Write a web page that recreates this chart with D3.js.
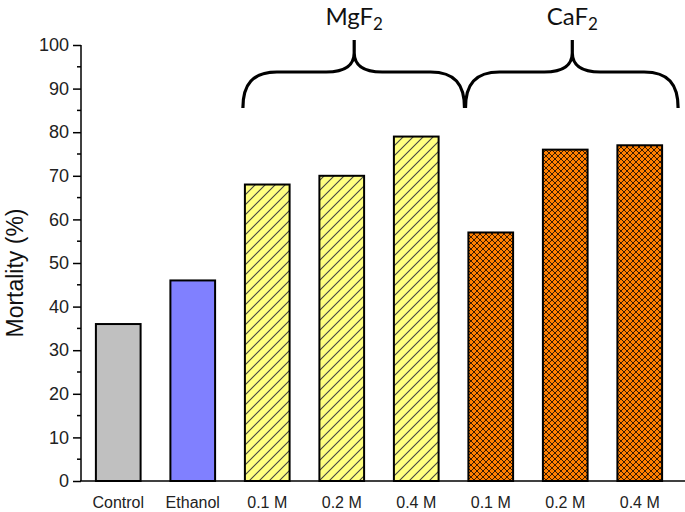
<!DOCTYPE html>
<html><head><meta charset="utf-8">
<script src="https://cdn.jsdelivr.net/npm/d3@7"></script>
<style>body{margin:0;background:#fff}</style>
</head><body>
<svg id="c" width="685" height="512"></svg>
<script>
const categories = ["Control","Ethanol","0.1 M","0.2 M","0.4 M","0.1 M ","0.2 M ","0.4 M "];
const labels = ["Control","Ethanol","0.1 M","0.2 M","0.4 M","0.1 M","0.2 M","0.4 M"];
const mortality = [36,46,68,70,79,57,76,77];
const groups = ["plain-grey","plain-blue","mg","mg","mg","ca","ca","ca"];
const yTicks = [0,10,20,30,40,50,60,70,80,90,100];
const braceGroups = [{name:"MgF", from:2, to:4},{name:"CaF", from:5, to:7}];

const ARIAL = "'Liberation Sans', Arial, sans-serif";
const svg = d3.select("#c");
const x = d3.scaleBand().domain(categories).range([81,677]).paddingInner(0.4).paddingOuter(0.2);
const y = d3.scaleLinear().domain([0,100]).range([481,45]);

const defs = svg.append("defs");
const p1 = defs.append("pattern").attr("id","hatch").attr("patternUnits","userSpaceOnUse")
  .attr("width",10).attr("height",10);
p1.append("rect").attr("width",10).attr("height",10).attr("fill","#ffff80");
p1.append("path").attr("d","M-2.5,2.5 L2.5,-2.5 M0,10 L10,0 M7.5,12.5 L12.5,7.5").attr("stroke","#444").attr("stroke-width",1.1);
const p2 = defs.append("pattern").attr("id","cross").attr("patternUnits","userSpaceOnUse")
  .attr("width",6).attr("height",6);
p2.append("rect").attr("width",6).attr("height",6).attr("fill","#ff8000");
p2.append("path").attr("d","M-1.5,1.5 L1.5,-1.5 M0,6 L6,0 M4.5,7.5 L7.5,4.5 M-1.5,4.5 L1.5,7.5 M0,0 L6,6 M4.5,-1.5 L7.5,1.5").attr("stroke","#3a1a00").attr("stroke-width",1);

const fills = {"plain-grey":"#c0c0c0","plain-blue":"#8080ff","mg":"url(#hatch)","ca":"url(#cross)"};

svg.append("g").selectAll("rect").data(mortality).join("rect")
  .attr("x",(d,i)=>x(categories[i]))
  .attr("width",x.bandwidth())
  .attr("y",d=>y(d))
  .attr("height",d=>y(0)-y(d))
  .attr("fill",(d,i)=>fills[groups[i]])
  .attr("stroke","#000").attr("stroke-width",2);

// y axis
const ya = svg.append("g").attr("transform","translate(81,0)")
  .call(d3.axisLeft(y).tickValues(yTicks).tickSize(8).tickPadding(4));
ya.select(".domain").attr("stroke-width",1.5).attr("d","M0,45V481");
ya.selectAll(".tick line").attr("stroke-width",1.5);
ya.selectAll("text").style("font-family",ARIAL).attr("font-size",18).attr("fill","#222");
const minor = d3.range(5,100,10);
svg.append("g").selectAll("line").data(minor).join("line")
  .attr("x1",77).attr("x2",81).attr("y1",d=>y(d)).attr("y2",d=>y(d))
  .attr("stroke","#000").attr("stroke-width",1.5);

// x axis line
svg.append("line").attr("x1",80).attr("x2",685).attr("y1",y(0)).attr("y2",y(0)).attr("stroke","#000").attr("stroke-width",1.5);
svg.append("g").selectAll("text").data(labels).join("text")
  .attr("x",(d,i)=>x(categories[i])+x.bandwidth()/2)
  .attr("y",508).attr("text-anchor","middle")
  .style("font-family",ARIAL).attr("font-size",16).attr("fill","#222")
  .text(d=>d);

// y label
svg.append("text").attr("transform","translate(23,273) rotate(-90)")
  .attr("text-anchor","middle").style("font-family",ARIAL).attr("font-size",23).attr("fill","#111")
  .text("Mortality (%)");

// braces
const yb = 108, yh = 72, yc = 53, yt = 40;
braceGroups.forEach((g,k)=>{
  const step = x.step();
  const x0 = k===0 ? x(categories[g.from]) - 2 : x(categories[g.from-1]) + x.bandwidth() + (step - x.bandwidth())/2 + 12;
  const x1 = k===0 ? x(categories[g.to]) + x.bandwidth() + (step - x.bandwidth())/2 + 11 : x(categories[g.to]) + x.bandwidth() + 16;
  const xm = (x0+x1)/2 + 0.5;
  const d = `M${x0},${yb} C${x0},${yh+12} ${x0+10},${yh} ${x0+34},${yh} L${xm-28},${yh} C${xm-8},${yh} ${xm},${yh-8} ${xm},${yc} L${xm},${yt} M${xm},${yc} C${xm},${yh-8} ${xm+8},${yh} ${xm+28},${yh} L${x1-34},${yh} C${x1-10},${yh} ${x1},${yh+12} ${x1},${yb}`;
  svg.append("path").attr("d",d).attr("fill","none").attr("stroke","#000").attr("stroke-width",3.2);
  const t = svg.append("text").attr("x",xm).attr("y",25).attr("text-anchor","middle")
    .style("font-family","Lato, 'Open Sans', sans-serif").attr("font-size",24).attr("fill","#111");
  t.append("tspan").text(g.name);
  t.append("tspan").attr("dy",5).attr("font-size",17).text("2");
});
</script>
</body></html>
